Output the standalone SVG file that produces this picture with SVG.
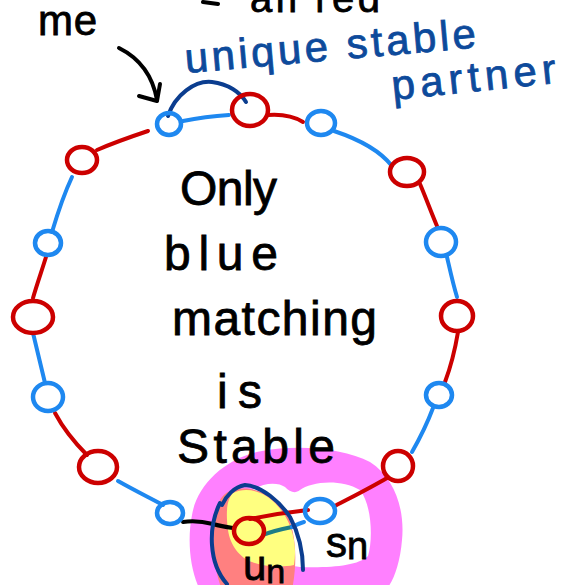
<svg xmlns="http://www.w3.org/2000/svg" width="562" height="585" viewBox="0 0 562 585">
<style>
.bn{fill:none;stroke:#1e88f0;stroke-width:4.5;stroke-linecap:round}
.rn{fill:none;stroke:#cc0000;stroke-width:4.5;stroke-linecap:round}
.be{fill:none;stroke:#1e88f0;stroke-width:4;stroke-linecap:round}
.re{fill:none;stroke:#cc0000;stroke-width:4;stroke-linecap:round}
.ink{fill:none;stroke:#000;stroke-width:4;stroke-linecap:round;stroke-linejoin:round}
.dk{fill:none;stroke:#0b3d8f;stroke-width:4;stroke-linecap:round}
.t{font-family:"Liberation Sans","DejaVu Sans",sans-serif;fill:#000;stroke:#000;stroke-width:0.8}
.bt{font-family:"Liberation Sans","DejaVu Sans",sans-serif;fill:#0d4a9b;stroke:#0d4a9b;stroke-width:0.8}
</style>
<rect width="562" height="585" fill="#fff"/>
<g id="highlights">
<path d="M262,451 C300,444 345,449 370,462 C395,478 405,510 402,540 C400,565 392,585 385,590 L200,590 C190,570 187,540 192,515 C197,485 225,458 262,451 Z" fill="#ff80ff"/>
<path d="M250,492 C262,482 278,482 285,487 C290,492 295,494 300,490 C310,482 340,478 360,490 C372,505 373,540 368,556 C358,566 330,568 300,567 L255,560 Z" fill="#fff"/>
<path d="M228,492 C245,484 270,490 285,510 C296,530 298,560 292,590 L222,590 C212,565 211,525 218,505 C220,498 224,494 228,492 Z" fill="#ff8080"/>
<path d="M233,493 C245,487 262,490 275,503 C290,518 298,540 294,565 C280,568 262,566 252,562 C240,558 230,545 228,530 C226,515 226,500 233,493 Z" fill="#ffff80"/>
</g>
<g id="connectors">
<path class="be" d="M183,121 C198,118 214,116 229,115"/>
<path class="re" d="M268,115 C282,114 295,117 303,122"/>
<path class="be" d="M334,131 C355,138 378,148 392,166"/>
<path class="re" d="M420,184 C426,198 431,212 437,226"/>
<path class="be" d="M447,257 C450,270 453,284 457,297"/>
<path class="re" d="M458,332 C455,350 451,366 445,382"/>
<path class="be" d="M433,408 C427,424 420,438 412,452"/>
<path class="re" d="M387,478 C370,488 352,497 335,506"/>
<path class="re" d="M250,519 C270,515 290,512 308,510"/>
<path d="M263,535 C272,531 282,529 292,527" fill="none" stroke="#1e7d86" stroke-width="4" stroke-linecap="round"/>
<path class="be" d="M292,527 C296,525 300,523 304,522"/>
<path class="ink" d="M183,522 C195,520 205,522 213,524 C220,526 226,527 233,528"/>
<path class="be" d="M163,505 C148,497 132,489 118,481"/>
<path class="re" d="M87,455 C75,443 63,428 55,413"/>
<path class="be" d="M45,383 C41,366 37,350 33,333"/>
<path class="re" d="M33,298 C37,284 42,270 46,257"/>
<path class="be" d="M52,232 C58,212 64,194 72,177"/>
<path class="re" d="M97,150 C113,143 130,137 148,131"/>
<path class="dk" d="M168,116 C175,95 195,80 212,82 C228,84 240,92 246,102"/>
<path class="ink" d="M119,48 C137,57 152,72 157,100"/>
<path class="ink" d="M139,96 L157,101 L160,84"/>
<path class="ink" d="M203,2 L218,4"/>
</g>
<g id="node-me"><ellipse class="bn" cx="169" cy="124" rx="12" ry="11"/></g>
<g id="node-r1"><ellipse class="rn" cx="250" cy="110" rx="18" ry="16"/></g>
<g id="node-b2"><ellipse class="bn" cx="321" cy="123" rx="14" ry="12"/></g>
<g id="node-r2"><ellipse class="rn" cx="407" cy="172" rx="17" ry="14"/></g>
<g id="node-b3"><ellipse class="bn" cx="441" cy="242" rx="15" ry="14"/></g>
<g id="node-r3"><ellipse class="rn" cx="457" cy="316" rx="16" ry="15"/></g>
<g id="node-b4"><ellipse class="bn" cx="439" cy="395" rx="13" ry="12"/></g>
<g id="node-r4"><ellipse class="rn" cx="398" cy="466" rx="15" ry="15"/></g>
<g id="node-sn"><ellipse class="bn" cx="320" cy="511" rx="15" ry="12"/></g>
<g id="node-un"><ellipse class="rn" cx="249" cy="531" rx="15" ry="13"/></g>
<g id="node-b6"><ellipse class="bn" cx="170" cy="513" rx="13" ry="11"/></g>
<g id="node-r6"><ellipse class="rn" cx="98" cy="467" rx="19" ry="16"/></g>
<g id="node-b7"><ellipse class="bn" cx="48" cy="397" rx="15" ry="14"/></g>
<g id="node-r7"><ellipse class="rn" cx="33" cy="317" rx="20" ry="16"/></g>
<g id="node-b8"><ellipse class="bn" cx="48" cy="243" rx="13" ry="12"/></g>
<g id="node-r8"><ellipse class="rn" cx="82" cy="160" rx="15" ry="13"/></g>
<path class="dk" d="M220,503 C214,515 211,530 212,545 C213,560 218,574 227,584"/>
<path class="dk" d="M222,505 C226,496 234,487 245,485 C262,486 280,502 290,517 C298,532 303,548 303,570"/>
<g id="labels">
<text class="t" x="250" y="12" font-size="40" textLength="130" lengthAdjust="spacing">all red</text>
<text class="t" x="38" y="35" font-size="42" textLength="59" lengthAdjust="spacing">me</text>
<text class="bt" font-size="42" transform="translate(186,73) rotate(-5)" textLength="292" lengthAdjust="spacing">unique stable</text>
<text class="bt" font-size="42" transform="translate(393,100) rotate(-6)" textLength="165" lengthAdjust="spacing">partner</text>
<text class="t" x="180" y="205" font-size="48" textLength="97" lengthAdjust="spacing">Only</text>
<text class="t" x="164" y="270" font-size="48" textLength="114" lengthAdjust="spacing">blue</text>
<text class="t" x="172" y="335" font-size="48" textLength="205" lengthAdjust="spacing">matching</text>
<text class="t" x="217" y="408" font-size="48" textLength="45" lengthAdjust="spacing">is</text>
<text class="t" x="177" y="463" font-size="48" textLength="158" lengthAdjust="spacing">Stable</text>
<text class="t" x="243" y="580" font-size="42">u<tspan font-size="34" dy="3">n</tspan></text>
<text class="t" x="326" y="557" font-size="42">s<tspan font-size="38" dy="2">n</tspan></text>
</g>
</svg>
